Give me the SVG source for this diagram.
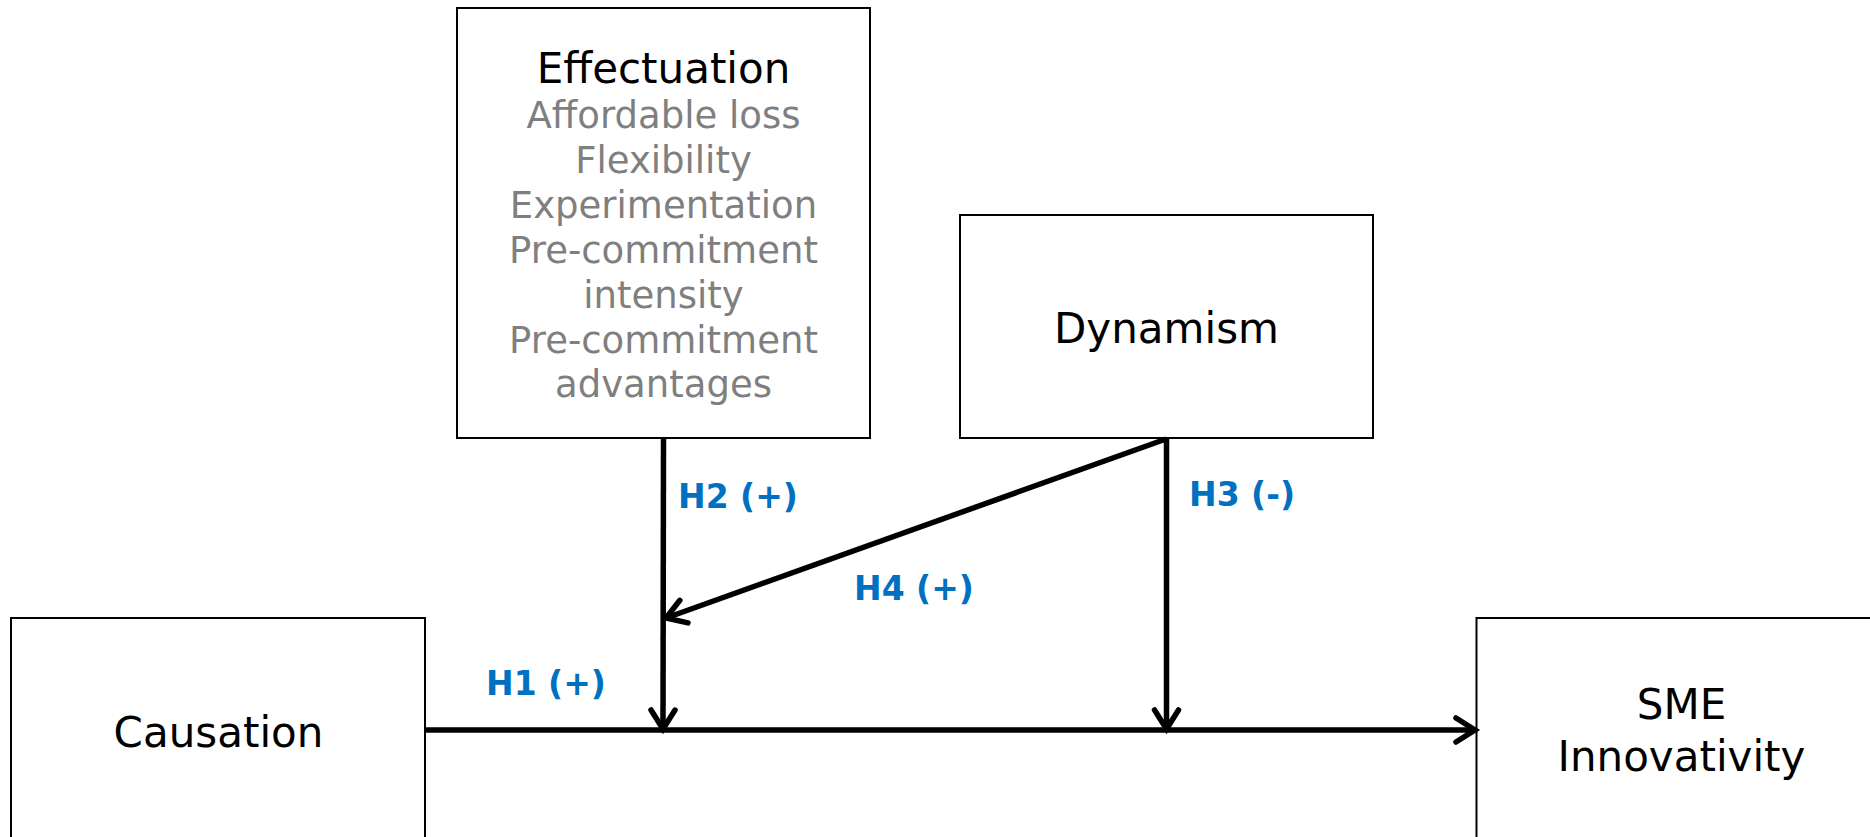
<svg xmlns="http://www.w3.org/2000/svg" width="1870" height="837" viewBox="0 0 1870 837">
<style>
.box{fill:#ffffff;stroke:#000000;stroke-width:2}
.t{font-family:"DejaVu Sans","Liberation Sans",sans-serif;font-size:42px;fill:#000000;text-anchor:middle}
.g{font-family:"DejaVu Sans","Liberation Sans",sans-serif;font-size:37px;fill:#7f7f7f;text-anchor:middle}
.h{font-family:"DejaVu Sans","Liberation Sans",sans-serif;font-size:33px;font-weight:bold;fill:#0070C0;text-anchor:middle}
.c{fill:none;stroke:#000000;stroke-width:5.5}
</style>
<defs>
<marker id="arr" markerUnits="userSpaceOnUse" markerWidth="40" markerHeight="40" viewBox="-30 -20 40 40" refX="0" refY="0" orient="auto" overflow="visible">
<path d="M-19,-12 L0,0 L-19,12" fill="none" stroke="#000000" stroke-width="5.5" stroke-linecap="round" stroke-linejoin="miter"/>
</marker>
</defs>
<rect width="1870" height="837" fill="#ffffff"/>
<g id="effectuation">
<rect class="box" x="457" y="8" width="413" height="430"/>
<text class="t" x="663.5" y="83">Effectuation</text>
<text class="g" x="663.5" y="128">Affordable loss</text>
<text class="g" x="663.5" y="173">Flexibility</text>
<text class="g" x="663.5" y="218">Experimentation</text>
<text class="g" x="663.5" y="263">Pre-commitment</text>
<text class="g" x="663.5" y="308">intensity</text>
<text class="g" x="663.5" y="353">Pre-commitment</text>
<text class="g" x="663.5" y="397">advantages</text>
</g>
<g id="dynamism">
<rect class="box" x="960" y="215" width="413" height="223"/>
<text class="t" x="1166.5" y="343">Dynamism</text>
</g>
<g id="causation">
<rect class="box" x="11" y="618" width="414" height="430"/>
<text class="t" x="218.5" y="747">Causation</text>
</g>
<g id="sme">
<rect class="box" x="1476.5" y="618" width="410" height="430"/>
<text class="t" x="1681.5" y="719">SME</text>
<text class="t" x="1681.5" y="771">Innovativity</text>
</g>
<g id="connectors">
<line class="c" x1="426" y1="730" x2="1475" y2="730" marker-end="url(#arr)"/>
<line class="c" x1="663.5" y1="439" x2="663" y2="729" marker-end="url(#arr)"/>
<line class="c" x1="1166.5" y1="439" x2="1166.5" y2="729" marker-end="url(#arr)"/>
<line class="c" x1="1166" y1="439" x2="666" y2="618" marker-end="url(#arr)"/>
</g>
<g id="labels">
<text class="h" x="738" y="508">H2 (+)</text>
<text class="h" x="1242" y="506">H3 (-)</text>
<text class="h" x="914" y="600">H4 (+)</text>
<text class="h" x="546" y="695">H1 (+)</text>
</g>
</svg>
